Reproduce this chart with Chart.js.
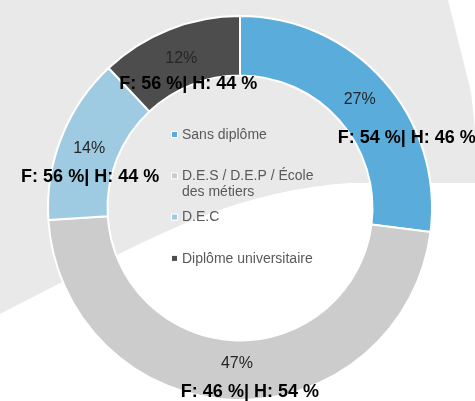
<!DOCTYPE html>
<html>
<head>
<meta charset="utf-8">
<script src="https://cdn.jsdelivr.net/npm/chart.js@4/dist/chart.umd.min.js"></script>
<style>
  html, body { margin: 0; padding: 0; background: #ffffff; }
  #wrap { width: 475px; height: 401px; position: relative; }
</style>
</head>
<body>
<div id="wrap"><canvas id="c" width="475" height="401"></canvas></div>
<script>
// ---- data ----
const categories = ['Sans diplôme', 'D.E.S / D.E.P / École des métiers', 'D.E.C', 'Diplôme universitaire'];
const shares = [27, 47, 14, 12];
const womenShare = [54, 46, 56, 56];
const menShare = [46, 54, 44, 44];

// ---- styles ----
const sliceColors = ['#5AADDA', '#CCCCCC', '#9FCBE2', '#4D4D4D'];
const FONT = '"Liberation Sans", Arial, sans-serif';
// label nudges (px) relative to slice centroid: [pctDx, pctDy, genderDx, genderDy]
const labelNudge = [
  [-2, -1, 45, 37],
  [2, -7, 15, 22],
  [0, 0, 1, 29],
  [1, 1, 8, 27]
];

const bgPlugin = {
  id: 'bgShape',
  beforeDraw(chart) {
    const ctx = chart.ctx;
    ctx.save();
    ctx.fillStyle = '#ffffff';
    ctx.fillRect(0, 0, chart.width, chart.height);
    ctx.fillStyle = '#E9E9E9';
    ctx.beginPath();
    ctx.moveTo(0, 0);
    ctx.lineTo(448, 0);
    ctx.lineTo(471, 92);
    ctx.lineTo(475, 130);
    ctx.lineTo(475, 183);
    ctx.lineTo(433, 183);
    ctx.lineTo(350, 183);
    ctx.bezierCurveTo(300, 186, 250, 198, 200, 217);
    ctx.bezierCurveTo(150, 237, 60, 283, 0, 314);
    ctx.closePath();
    ctx.fill();
    ctx.restore();
  }
};

const labelPlugin = {
  id: 'sliceLabels',
  afterDatasetsDraw(chart) {
    const ctx = chart.ctx;
    const meta = chart.getDatasetMeta(0);
    ctx.save();
    ctx.textAlign = 'center';
    ctx.textBaseline = 'middle';
    meta.data.forEach((arc, i) => {
      const p = arc.tooltipPosition();
      const n = labelNudge[i];
      ctx.fillStyle = '#262626';
      ctx.font = '16px ' + FONT;
      ctx.fillText(shares[i] + '%', p.x + n[0], p.y + n[1]);
      ctx.fillStyle = '#000000';
      ctx.font = 'bold 18px ' + FONT;
      ctx.fillText('F: ' + womenShare[i] + ' %| H: ' + menShare[i] + ' %', p.x + n[2], p.y + n[3]);
    });
    ctx.restore();
  }
};

const legendPlugin = {
  id: 'centerLegend',
  afterDraw(chart) {
    const ctx = chart.ctx;
    const arc0 = chart.getDatasetMeta(0).data[0];
    const cx = arc0.x, cy = arc0.y;
    ctx.save();
    ctx.font = '14px ' + FONT;
    ctx.textBaseline = 'middle';
    ctx.textAlign = 'left';
    const boxX = cx - 68, textX = cx - 58;
    const maxW = 140, step = 41.3, lineH = 16;
    chart.data.labels.forEach((lab, i) => {
      const y = cy - 73 + i * step;
      // wrap
      const words = lab.split(' ');
      const lines = [];
      let cur = '';
      words.forEach(w => {
        const t = cur ? cur + ' ' + w : w;
        if (ctx.measureText(t).width > maxW && cur) { lines.push(cur); cur = w; }
        else cur = t;
      });
      if (cur) lines.push(cur);
      ctx.fillStyle = '#ffffff';
      ctx.fillRect(boxX - 1, y - 4, 7, 7);
      ctx.fillStyle = chart.data.datasets[0].backgroundColor[i];
      ctx.fillRect(boxX, y - 3, 5, 5);
      ctx.fillStyle = '#595959';
      lines.forEach((ln, k) => ctx.fillText(ln, textX, y + k * lineH));
    });
    ctx.restore();
  }
};

new Chart(document.getElementById('c'), {
  type: 'doughnut',
  data: {
    labels: categories,
    datasets: [{
      data: shares,
      backgroundColor: sliceColors,
      borderColor: '#ffffff',
      borderWidth: 2
    }]
  },
  options: {
    responsive: false,
    animation: false,
    cutout: '69%',
    layout: { padding: { left: 47, right: 42, top: 15, bottom: 0 } },
    plugins: { legend: { display: false }, tooltip: { enabled: false } }
  },
  plugins: [bgPlugin, labelPlugin, legendPlugin]
});
</script>
</body>
</html>
